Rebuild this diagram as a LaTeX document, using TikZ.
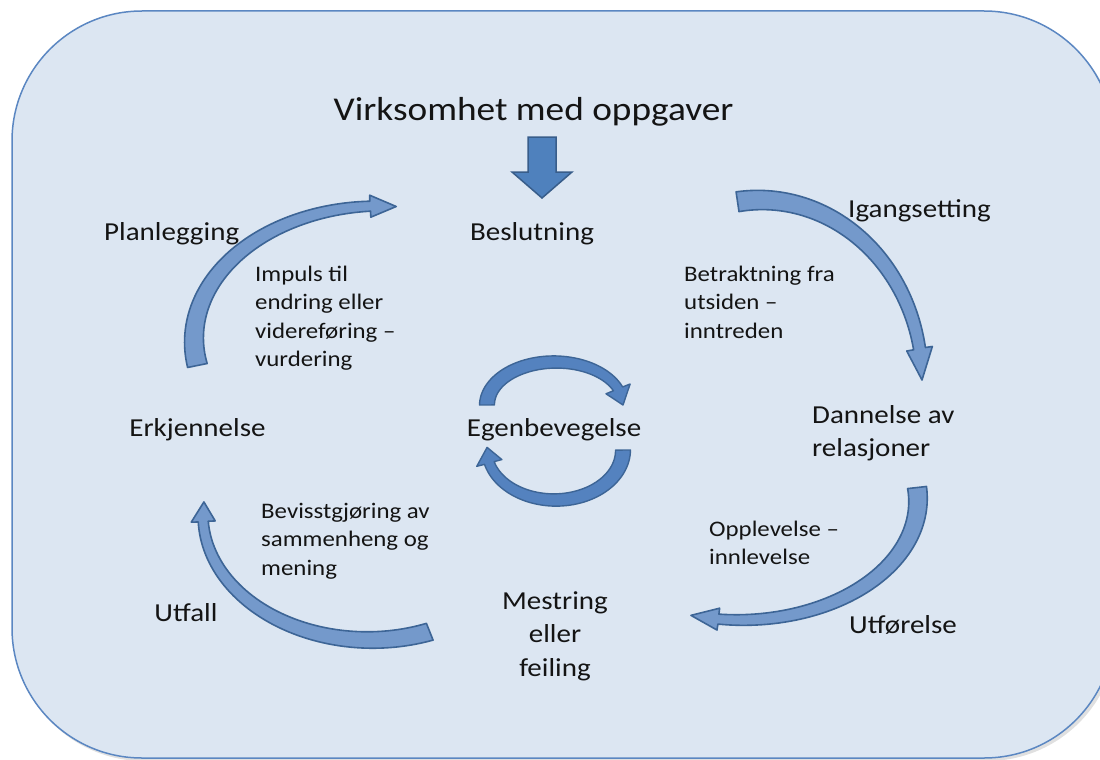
\documentclass[tikz,border=0pt]{standalone}
\usepackage{fontspec}
\setmainfont{Carlito}[FakeStretch=1.12]
\definecolor{bgfill}{HTML}{DCE6F2}
\definecolor{bgline}{HTML}{5B87C2}
\definecolor{arrdark}{HTML}{3D6596}
\definecolor{arrmid}{HTML}{7499CB}
\definecolor{arrcentre}{HTML}{5482BF}
\definecolor{blockfill}{HTML}{4F81BD}
\definecolor{blockline}{HTML}{385D8A}
\definecolor{txt}{HTML}{141414}

% curved arrow along an elliptic arc:
% centre (#1,#2), radii #3,#4, tail angle #5, head base angle #6, tip angle #7,
% tail half width #8, neck half width #9, then head half width, then style
\newcommand{\carr}[9]{%
  \def\aCX{#1}\def\aCY{#2}\def\aRX{#3}\def\aRY{#4}%
  \def\aTa{#5}\def\aTb{#6}\def\aTc{#7}\def\aWT{#8}\def\aWN{#9}%
  \carrfin}
\newcommand{\carrfin}[2]{%
  \carrpath{1}{#1}{#2}%
}
\newcommand{\carrpath}[3]{%
  \pgfmathsetmacro{\aD}{\aTb-\aTa}%
  \pgfmathsetmacro{\aTip}{\aTb+(\aTc-\aTb)*(0.35+0.65*#1)}%
  \path[#3] plot[domain=0:1,samples=60]
     ({\aCX+(\aRX+#1*(\aWT+(\aWN-\aWT)*\x))*cos(\aTa+\aD*\x)},
      {\aCY+(\aRY+#1*(\aWT+(\aWN-\aWT)*\x))*sin(\aTa+\aD*\x)})
   -- ({\aCX+(\aRX+#1*#2)*cos(\aTb)},{\aCY+(\aRY+#1*#2)*sin(\aTb)})
   -- ({\aCX+\aRX*cos(\aTip)},{\aCY+\aRY*sin(\aTip)})
   -- ({\aCX+(\aRX-#1*#2)*cos(\aTb)},{\aCY+(\aRY-#1*#2)*sin(\aTb)})
   -- plot[domain=0:1,samples=60]
     ({\aCX+(\aRX-#1*(\aWN+(\aWT-\aWN)*\x))*cos(\aTb-\aD*\x)},
      {\aCY+(\aRY-#1*(\aWN+(\aWT-\aWN)*\x))*sin(\aTb-\aD*\x)})
   -- cycle;
}

\begin{document}
\begin{tikzpicture}[x=1pt,y=-1pt,
  arrbody/.style={fill=arrmid, draw=arrdark, line width=1.6pt, line join=round},
  arrinner/.style={fill=arrcentre, draw=arrdark, line width=1.4pt, line join=round},
  blockarrow/.style={fill=blockfill, draw=blockline, line width=1.5pt, line join=miter},
  titlelbl/.style={font=\fontsize{33.3}{40}\selectfont, text=txt, inner sep=0pt},
  lbl/.style={font=\fontsize{25.9}{33.5}\selectfont, text=txt, inner sep=0pt},
  small/.style={font=\fontsize{22.2}{28.5}\selectfont, text=txt, inner sep=0pt}]
\useasboundingbox (0,0) rectangle (1100,760);
\fill[white] (0,0) rectangle (1100,760);
% background panel
\fill[black, opacity=0.12, rounded corners=130pt] (14,14) rectangle (1117,761);
\filldraw[fill=bgfill, draw=bgline, line width=1.5pt, rounded corners=130pt] (12,11) rectangle (1114,758);

% top block arrow
\draw[blockarrow] (528,137) -- (556,137) -- (556,172) -- (572,172) -- (542,198) -- (512,172) -- (528,172) -- cycle;

% cycle arrows
\carr{380}{340}{186}{134}{169}{267}{275}{10}{5}{11}{arrbody}
\carr{760}{380}{162}{180}{262}{350}{360}{10}{6}{13}{arrbody}
\carr{740}{500}{178}{120}{-6}{97}{106}{9.5}{5}{11}{arrbody}
\carr{370}{515}{167}{125}{69}{177}{186}{9}{5}{12}{arrbody}
% central circular arrows
\carr{555}{405}{68}{43}{180}{338}{360}{7.5}{5}{13}{arrinner}
\carr{555}{450}{68}{50}{0}{165}{183}{7.5}{5}{13}{arrinner}

% labels
\node[titlelbl, anchor=base] (title) at (533.5,120) {Virksomhet med oppgaver};
\node[lbl, anchor=base] (beslutning) at (532,240) {Beslutning};
\node[lbl, anchor=base west] (planlegging) at (104,240) {Planlegging};
\node[lbl, anchor=base west] (igangsetting) at (848,217) {Igangsetting};
\node[lbl, anchor=base] (erkjennelse) at (197.5,436) {Erkjennelse};
\node[lbl, anchor=base] (egen) at (554,436) {Egenbevegelse};
\node[lbl, anchor=base west] (dannelse) at (812,423) {\begin{tabular}[t]{@{}l@{}}Dannelse av\\relasjoner\end{tabular}};
\node[lbl, anchor=base] (utfall) at (186,621) {Utfall};
\node[lbl, anchor=base] (mestring) at (555,609) {\begin{tabular}[t]{@{}c@{}}Mestring\\eller\\feiling\end{tabular}};
\node[lbl, anchor=base] (utforelse) at (903,633) {Utførelse};

\node[small, anchor=base west] (impuls) at (255,281) {\begin{tabular}[t]{@{}l@{}}Impuls til\\endring eller\\videreføring –\\vurdering\end{tabular}};
\node[small, anchor=base west] (betraktning) at (684,281) {\begin{tabular}[t]{@{}l@{}}Betraktning fra\\utsiden –\\inntreden\end{tabular}};
\node[small, anchor=base west] (bevisst) at (261,518) {\begin{tabular}[t]{@{}l@{}}Bevisstgjøring av\\sammenheng og\\mening\end{tabular}};
\node[small, anchor=base west] (opplevelse) at (709,536) {\begin{tabular}[t]{@{}l@{}}Opplevelse –\\innlevelse\end{tabular}};
\end{tikzpicture}
\end{document}
